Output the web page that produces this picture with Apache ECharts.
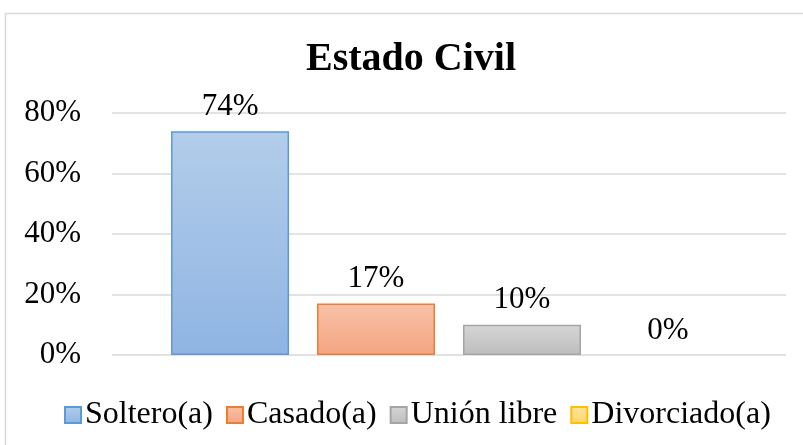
<!doctype html>
<html>
<head>
    <meta charset="utf-8">
    <title>Estado Civil</title>
    <style>
        html, body { margin: 0; padding: 0; background: #fff; }
        #chart { width: 803px; height: 445px; }
    </style>
</head>
<body>
<div id="chart"></div>
<script src="https://cdn.jsdelivr.net/npm/echarts@6/dist/echarts.min.js"></script>
<script>
    // datos
    var categorias = ['Estado Civil'];
    var series_nombres = ['Soltero(a)', 'Casado(a)', 'Unión libre', 'Divorciado(a)'];
    var valores = [74, 17, 10, 0];
    var ticks_y = [0, 20, 40, 60, 80];

    var colores = [
        { top: '#b3cdea', bottom: '#8fb4e3', line: '#5b9bd5' },
        { top: '#f8c1a7', bottom: '#f4a582', line: '#ed7d31' },
        { top: '#d6d6d6', bottom: '#bdbdbd', line: '#a5a5a5' },
        { top: '#ffe49b', bottom: '#ffd66b', line: '#ffc000' }
    ];
    var fuente = '"Liberation Serif", "Times New Roman", serif';

    var myChart = echarts.init(document.getElementById('chart'));

    var series = series_nombres.map(function (nombre, i) {
        var v = valores[i];
        return {
            name: nombre,
            type: 'bar',
            barWidth: 118,
            barGap: '23.7%',
            // barra en cero: sin borde visible
            data: [v === 0 ? { value: v, itemStyle: { borderWidth: 0 } } : v],
            itemStyle: {
                color: new echarts.graphic.LinearGradient(0, 0, 0, 1, [
                    { offset: 0, color: colores[i].top },
                    { offset: 1, color: colores[i].bottom }
                ]),
                borderColor: colores[i].line,
                borderWidth: 1.5
            },
            label: {
                show: true,
                position: 'top',
                distance: 9,
                formatter: '{c}%',
                fontFamily: fuente,
                fontSize: 31,
                color: '#000'
            }
        };
    });

    var option = {
        animation: false,
        title: {
            text: 'Estado Civil',
            left: 406,
            textAlign: 'center',
            top: 35,
            textStyle: {
                fontFamily: fuente,
                fontSize: 40,
                fontWeight: 'bold',
                color: '#000'
            }
        },
        legend: {
            data: series_nombres,
            bottom: 9,
            left: 59,
            itemWidth: 16,
            itemHeight: 16,
            itemGap: 13,
            icon: 'rect',
            textStyle: {
                fontFamily: fuente,
                fontSize: 32,
                color: '#000',
                padding: [0, 0, 0, -1]
            }
        },
        grid: {
            left: 112,
            right: 17,
            top: 113,
            bottom: 90,
            containLabel: false
        },
        xAxis: {
            type: 'category',
            data: categorias,
            axisLine: { show: false },
            axisTick: { show: false },
            axisLabel: { show: false }
        },
        yAxis: {
            type: 'value',
            min: ticks_y[0],
            max: ticks_y[ticks_y.length - 1],
            interval: 20,
            axisLine: { show: false },
            axisTick: { show: false },
            splitLine: { lineStyle: { color: '#d9d9d9', width: 1.5 } },
            axisLabel: {
                formatter: '{value}%',
                margin: 31,
                fontFamily: fuente,
                fontSize: 31,
                color: '#000'
            }
        },
        graphic: [{
            type: 'rect',
            shape: { x: 5.5, y: 13.5, width: 800, height: 440 },
            style: { fill: 'none', stroke: '#d9d9d9', lineWidth: 1.5 },
            silent: true
        }],
        series: series
    };
    myChart.setOption(option);
</script>
</body>
</html>
